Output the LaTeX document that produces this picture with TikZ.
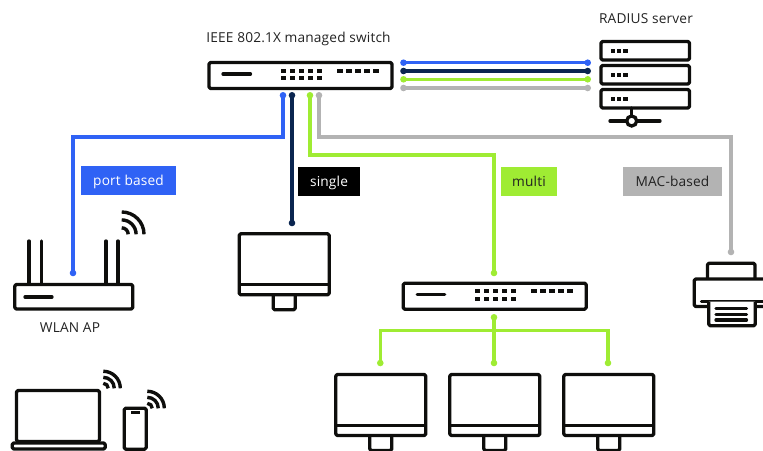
\documentclass[tikz,border=0pt]{standalone}
\usepackage{fontspec}
\setmainfont[LetterSpace=1.2]{Open Sans}
\definecolor{wblue}{HTML}{2F62F5}
\definecolor{wnavy}{HTML}{0A2550}
\definecolor{wlime}{HTML}{9FEC33}
\definecolor{wgrey}{HTML}{B3B3B3}
\definecolor{ink}{HTML}{0E0E0C}
\definecolor{txt}{HTML}{222222}
\tikzset{
  outline/.style={draw=ink,line width=3.3pt,rounded corners=1.5pt,line join=round,outer sep=0pt},
  stroke/.style={draw=ink,line width=3.3pt,line cap=round},
  wire/.style={line width=3.4pt,line join=miter},
  tagbox/.style={inner sep=0pt,anchor=center,font=\fontsize{13.7}{15}\selectfont,text height=12pt,text depth=2pt,outer sep=0pt},
  caption/.style={inner sep=0pt,font=\fontsize{13.7}{15}\selectfont,text=txt},
  portsq/.style={fill=ink,draw=none},
  wifiarc/.style={draw=ink,line width=3.4pt}
}
\newcommand{\wdot}[2]{\fill[#1] (#2) circle (3.3pt);}
\newcommand{\wifiicon}[3]{% x y size
  \foreach \f in {0.93,0.6,0.27}{
    \pgfmathsetmacro{\r}{#3*\f}
    \draw[wifiarc] (#1,#2-\r) arc[start angle=90,end angle=0,radius=\r pt];
  }
}
\newcommand{\portrow}[2]{%
  \foreach \i in {0,...,4}{
    \fill[portsq] (#1+\i*9-2.7,#2-2) rectangle (#1+\i*9+2.7,#2+2);
  }
}
\newcommand{\switchbox}[3]{% name, x left centreline, y top centreline
  \node[outline,minimum width=183pt,minimum height=26pt,inner sep=0pt,anchor=north west] (#1) at (#2,#3) {};
  \draw[stroke] (#2+14,#3+11.5) -- (#2+41.5,#3+11.5);
  \portrow{#2+74.2}{#3+8.2}
  \portrow{#2+74.2}{#3+15.8}
  \portrow{#2+130.8}{#3+8.2}
}
\newcommand{\monitor}[3]{% name, left, top
  \node[outline,minimum width=90pt,minimum height=61pt,inner sep=0pt,anchor=north west] (#1) at (#2,#3) {};
  \draw[draw=ink,line width=3.3pt] (#2,#3+51) -- (#2+90,#3+51);
  \draw[outline] (#2+34,#3+62) -- (#2+34,#3+76) -- (#2+56,#3+76) -- (#2+56,#3+62);
}
\begin{document}
\begin{tikzpicture}[x=1pt,y=-1pt]
\useasboundingbox (0,0) rectangle (763,450);
\clip (0,0) rectangle (763,450);

% main switch
\switchbox{sw}{209}{62.5}
\node[caption] (swl) at (298.5,38.5) {IEEE 802.1X managed switch};

% RADIUS server
\foreach \n/\yy in {a/41.5,b/65.5,c/89.5}{
  \node[outline,minimum width=88.5pt,minimum height=18.5pt,inner sep=0pt,anchor=north west] (srv\n) at (601,\yy) {};
  \foreach \xx in {612.7,619,625.3}{
    \fill[portsq] (\xx-2.2,\yy+7.5) rectangle (\xx+2.2,\yy+11.5);
  }
}
\node[caption] (srvl) at (646,19) {RADIUS server};
\coordinate (hub) at (631.7,121);
\draw[stroke] (srvc.south -| hub) -- (hub);
\draw[stroke] (610,121) -- (626.5,121) (637,121) -- (660,121);
\node[draw=ink,line width=3.3pt,circle,minimum size=10pt,inner sep=0pt,fill=white,outer sep=0pt] (hubc) at (hub) {};

% switch to server wires
\foreach \c/\yy/\k in {wblue/62.7/a,wnavy/71/b,wlime/79.3/c,wgrey/88/d}{
  \coordinate (l\k) at (403.5,\yy);
  \coordinate (r\k) at (587.7,\yy);
  \draw[\c,wire] (l\k) -- (r\k);
  \wdot{\c}{l\k}
  \wdot{\c}{r\k}
}

% port wires
\coordinate (pa) at (283,95.3);
\coordinate (pb) at (292,95.3);
\coordinate (pc) at (310,95.3);
\coordinate (pd) at (319,95.3);
\coordinate (ea) at (73,273);
\coordinate (eb) at (292,223);
\coordinate (ec) at (494,273);
\coordinate (ed) at (731,252);
\draw[wblue,wire] (pa) |- (73,137) -- (ea);
\draw[wnavy,wire] (pb) -- (eb);
\draw[wlime,wire] (pc) |- (494,155) -- (ec);
\draw[wgrey,wire] (pd) |- (731,137) -- (ed);
\wdot{wblue}{pa}\wdot{wblue}{ea}
\wdot{wnavy}{pb}\wdot{wnavy}{eb}
\wdot{wlime}{pc}\wdot{wlime}{ec}
\wdot{wgrey}{pd}\wdot{wgrey}{ed}

% tags
\node[tagbox,fill=wblue,text=white,minimum width=95pt,minimum height=29pt] (tagp) at (128.5,180.5) {port based};
\node[tagbox,fill=black,text=white,minimum width=62pt,minimum height=29pt] (tags) at (329,181) {single};
\node[tagbox,fill=wlime,text=txt,minimum width=56pt,minimum height=29pt] (tagm) at (529,181) {multi};
\node[tagbox,fill=wgrey,text=txt,minimum width=99pt,minimum height=29pt] (tagg) at (672.5,181) {MAC-based};

% WLAN AP
\foreach \xx in {29,41.7,106,118}{
  \draw[stroke] (\xx,241) -- (\xx,283);
}
\node[outline,minimum width=118pt,minimum height=24.5pt,inner sep=0pt,anchor=north west] (ap) at (14.8,284.5) {};
\draw[stroke] (25,297) -- (52,297);
\node[caption] (apl) at (70,328) {WLAN AP};
\wifiicon{121.7}{234.3}{24}

% single monitor
\monitor{ms}{239.2}{233.8}

% second switch
\switchbox{sw2}{403.2}{283.2}
\coordinate (d0) at (494,317.3);
\coordinate (jn) at (494,330.7);
\coordinate (d1) at (380.3,363);
\coordinate (d2) at (494,363);
\coordinate (d3) at (608,363);
\draw[wlime,wire] (d0) -- (d2);
\draw[wlime,wire] (d1) |- (jn) -| (d3);
\wdot{wlime}{d0}\wdot{wlime}{d1}\wdot{wlime}{d2}\wdot{wlime}{d3}

% monitors
\monitor{m1}{335.8}{374.5}
\monitor{m2}{449.8}{374.5}
\monitor{m3}{563.8}{374.5}

% printer
\draw[outline] (707.5,278) -- (707.5,263.2) -- (755,263.2) -- (755,278);
\draw[outline] (707,306.5) -- (694.2,306.5) -- (694.2,279) -- (775,279) -- (775,306.5) -- (757,306.5);
\draw[stroke] (701.5,301.7) -- (770,301.7);
\draw[outline,fill=white] (708.8,301.7) -- (708.8,325.8) -- (755.2,325.8) -- (755.2,301.7);
\foreach \yy in {308.3,314.2,320}{
  \draw[stroke] (716,\yy) -- (746.5,\yy);
}

% laptop
\node[outline,minimum width=83pt,minimum height=51pt,inner sep=0pt,anchor=north west] (lap) at (16.5,390.5) {};
\node[outline,minimum width=93pt,minimum height=6pt,inner sep=0pt,anchor=north west] (lapb) at (12.2,443) {};
\wifiicon{103.3}{388.3}{18.3}

% phone
\node[outline,minimum width=22pt,minimum height=41pt,inner sep=0pt,anchor=north west] (ph) at (124.2,408.2) {};
\fill[portsq] (131,411) rectangle (140,413.5);
\wifiicon{147.3}{408.3}{18.3}
\end{tikzpicture}
\end{document}
